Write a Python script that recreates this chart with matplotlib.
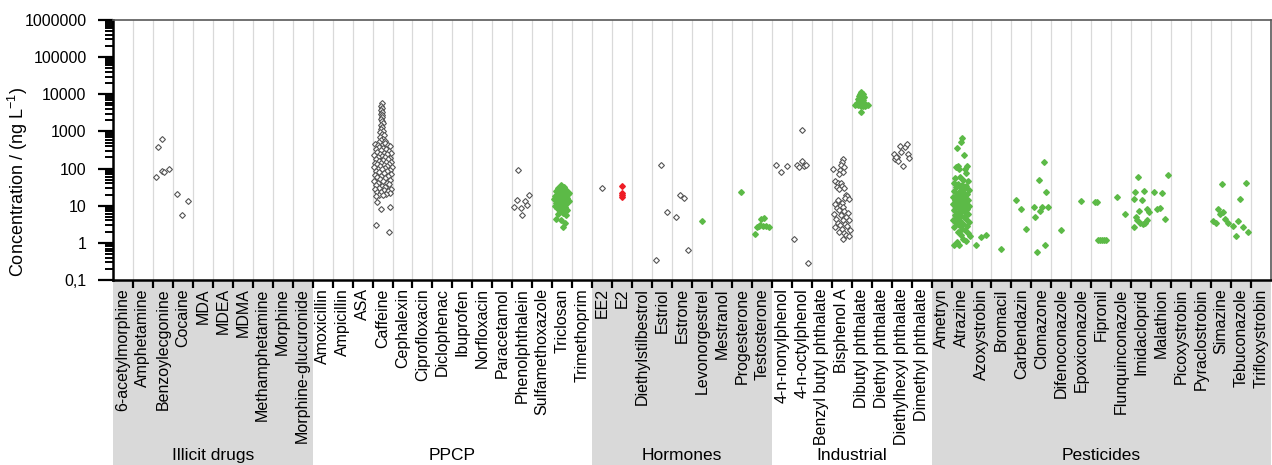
import matplotlib
matplotlib.use("Agg")
import matplotlib.pyplot as plt
from matplotlib.patches import Rectangle
from matplotlib.ticker import FixedLocator, LogLocator, NullFormatter, FuncFormatter

plt.rcParams["font.family"] = ["Liberation Sans", "DejaVu Sans"]
plt.rcParams["mathtext.default"] = "regular"

# compound groups
illicit = ["6-acetylmorphine", "Amphetamine", "Benzoylecgonine", "Cocaine", "MDA", "MDEA",
           "MDMA", "Methamphetamine", "Morphine", "Morphine-glucuronide"]
ppcp = ["Amoxicillin", "Ampicillin", "ASA", "Caffeine", "Cephalexin", "Ciprofloxacin",
        "Diclophenac", "Ibuprofen", "Norfloxacin", "Paracetamol", "Phenolphthalein",
        "Sulfamethoxazole", "Triclosan", "Trimethoprim"]
hormones = ["EE2", "E2", "Diethylstilbestrol", "Estriol", "Estrone", "Levonorgestrel",
            "Mestranol", "Progesterone", "Testosterone"]
industrial = ["4-n-nonylphenol", "4-n-octylphenol", "Benzyl butyl phthalate", "Bisphenol A",
              "Dibutyl phthalate", "Diethyl phthalate", "Diethylhexyl phthalate", "Dimethyl phthalate"]
pesticides = ["Ametryn", "Atrazine", "Azoxystrobin", "Bromacil", "Carbendazin", "Clomazone",
              "Difenoconazole", "Epoxiconazole", "Fipronil", "Flunquinconazole", "Imidacloprid",
              "Malathion", "Picoxystrobin", "Pyraclostrobin", "Simazine", "Tebuconazole",
              "Trifloxystrobin"]
groups = [("Illicit drugs", illicit, True), ("PPCP", ppcp, False), ("Hormones", hormones, True),
          ("Industrial", industrial, False), ("Pesticides", pesticides, True)]

# (jitter within category, concentration ng/L)
open_pts = {
    "Benzoylecgonine": [(0.13, 60), (0.27, 380), (0.47, 640), (0.43, 88), (0.57, 83), (0.8, 98)],
    "Cocaine": [(0.2, 21), (0.47, 5.7), (0.77, 13.4)],
    "Caffeine": [
        (0.45, 5700), (0.42, 4900), (0.48, 4300), (0.44, 3800), (0.47, 3400), (0.43, 3000),
        (0.46, 2700), (0.49, 2400), (0.41, 2100), (0.45, 1900), (0.5, 1700), (0.4, 1500),
        (0.47, 1300), (0.43, 1150), (0.52, 1050), (0.38, 950), (0.46, 850), (0.55, 780),
        (0.35, 700), (0.5, 640), (0.42, 600), (0.6, 560), (0.3, 520),
        (0.1, 450), (0.25, 430), (0.6, 480), (0.75, 420), (0.85, 400), (0.3, 380), (0.5, 360),
        (0.15, 340), (0.65, 330), (0.4, 310), (0.8, 300), (0.2, 280), (0.55, 270), (0.9, 260),
        (0.35, 250), (0.7, 240), (0.05, 230), (0.45, 220), (0.6, 210), (0.25, 200), (0.85, 195),
        (0.15, 185), (0.75, 180), (0.5, 170), (0.3, 160), (0.65, 155), (0.9, 150), (0.1, 145),
        (0.4, 140), (0.8, 135), (0.2, 130), (0.55, 125), (0.7, 120), (0.35, 115), (0.95, 112),
        (0.05, 108), (0.6, 104), (0.25, 100),
        (0.45, 96), (0.85, 92), (0.15, 88), (0.7, 85), (0.3, 80), (0.55, 76), (0.9, 72),
        (0.1, 68), (0.4, 65), (0.75, 62), (0.2, 58), (0.6, 55), (0.35, 52), (0.85, 50),
        (0.05, 47), (0.5, 45), (0.7, 42), (0.25, 40), (0.8, 38), (0.15, 36), (0.45, 34),
        (0.6, 32), (0.3, 30), (0.9, 29), (0.1, 28), (0.55, 26), (0.75, 25), (0.2, 24),
        (0.4, 23), (0.85, 22), (0.65, 21), (0.3, 20), (0.5, 19.5), (0.15, 18),
        (0.23, 12.6), (0.42, 8), (0.85, 9.5), (0.17, 3), (0.8, 2)],
    "Phenolphthalein": [(0.3, 90), (0.22, 14), (0.1, 9.4), (0.43, 8.5), (0.65, 13.5),
                        (0.83, 20), (0.73, 10.2), (0.5, 5.6)],
    "EE2": [(0.47, 30.5)],
    "Estriol": [(0.47, 122), (0.2, 0.35), (0.77, 6.8)],
    "Estrone": [(0.2, 4.9), (0.38, 20), (0.58, 16.5), (0.8, 0.63)],
    "4-n-nonylphenol": [(0.22, 125), (0.48, 83), (0.77, 117)],
    "4-n-octylphenol": [(0.13, 1.3), (0.5, 1100), (0.25, 121), (0.37, 112), (0.53, 162),
                        (0.63, 117), (0.73, 125), (0.82, 0.29)],
    "Bisphenol A": [
        (0.55, 180), (0.5, 150), (0.45, 125), (0.6, 110), (0.05, 95), (0.4, 90), (0.55, 80),
        (0.35, 70), (0.15, 45), (0.3, 42), (0.45, 40), (0.5, 35), (0.25, 32), (0.6, 30),
        (0.35, 28), (0.7, 20), (0.75, 18), (0.65, 16), (0.85, 15), (0.3, 14), (0.5, 12),
        (0.15, 11), (0.4, 10), (0.55, 9), (0.25, 8.5), (0.35, 7.5), (0.6, 7), (0.8, 6.5),
        (0.1, 6), (0.45, 5.5), (0.7, 5), (0.2, 4.5), (0.55, 4.2), (0.85, 4), (0.3, 3.5),
        (0.65, 3.2), (0.4, 3), (0.75, 2.8), (0.15, 2.6), (0.5, 2.4), (0.9, 2.2), (0.35, 2),
        (0.6, 1.9), (0.7, 1.6), (0.85, 1.5), (0.55, 1.3)],
    "Diethylhexyl phthalate": [(0.12, 245), (0.17, 178), (0.28, 209), (0.4, 415), (0.47, 280),
                               (0.58, 117), (0.65, 390), (0.75, 460), (0.8, 250), (0.87, 190),
                               (0.32, 160), (0.2, 200)],
}

green_pts = {
    "Triclosan": [
        (0.45, 37), (0.6, 32), (0.3, 30), (0.5, 28), (0.7, 26), (0.2, 25), (0.4, 24),
        (0.55, 22), (0.8, 21), (0.35, 20), (0.65, 19), (0.15, 18), (0.5, 17), (0.25, 16),
        (0.75, 16), (0.45, 15), (0.6, 14), (0.3, 14), (0.85, 13), (0.4, 13), (0.55, 12),
        (0.2, 12), (0.7, 11), (0.35, 11), (0.5, 10), (0.15, 10), (0.65, 9.5), (0.45, 9),
        (0.25, 8.5), (0.6, 8), (0.75, 7.5), (0.4, 7), (0.55, 6.5), (0.3, 6), (0.7, 5.5),
        (0.2, 4.5), (0.45, 4), (0.65, 3.5), (0.55, 2.6), (0.85, 22), (0.1, 15)],
    "Levonorgestrel": [(0.48, 3.9)],
    "Progesterone": [(0.47, 23.5)],
    "Testosterone": [(0.15, 1.75), (0.25, 2.6), (0.35, 2.9), (0.45, 4.4), (0.6, 4.7),
                     (0.55, 2.9), (0.7, 2.8), (0.85, 2.7), (0.4, 3.0)],
    "Dibutyl phthalate": [
        (0.45, 11500), (0.4, 10000), (0.55, 10000), (0.35, 9000), (0.5, 8800), (0.6, 8500),
        (0.4, 8000), (0.3, 7500), (0.5, 7200), (0.55, 7000), (0.45, 6500), (0.35, 6200),
        (0.6, 6000), (0.25, 5800), (0.5, 5500), (0.4, 5300), (0.7, 5200), (0.15, 5000),
        (0.3, 5000), (0.55, 4900), (0.8, 5000), (0.45, 4800), (0.65, 4800), (0.45, 3300)],
    "Atrazine": [
        (0.5, 680), (0.48, 510), (0.25, 350), (0.6, 230), (0.3, 120), (0.75, 115), (0.2, 110),
        (0.35, 95), (0.65, 95), (0.7, 75), (0.4, 60), (0.15, 55), (0.55, 50), (0.8, 45),
        (0.1, 40), (0.3, 38), (0.5, 36), (0.7, 34), (0.2, 32), (0.45, 30), (0.6, 28),
        (0.85, 27), (0.1, 25), (0.35, 24), (0.55, 22), (0.75, 21), (0.25, 20), (0.45, 19),
        (0.65, 18), (0.05, 17), (0.3, 16), (0.5, 15), (0.8, 14.5), (0.15, 14), (0.4, 13),
        (0.6, 12.5), (0.25, 12), (0.7, 11.5), (0.05, 11), (0.45, 10.5), (0.85, 10),
        (0.2, 9.5), (0.55, 9), (0.35, 8.5), (0.75, 8), (0.1, 7.5), (0.5, 7), (0.65, 6.8),
        (0.3, 6.5), (0.8, 6), (0.15, 5.7), (0.45, 5.4), (0.6, 5), (0.25, 4.7), (0.7, 4.4),
        (0.05, 4.1), (0.4, 3.9), (0.85, 3.7), (0.2, 3.4), (0.55, 3.2), (0.35, 3),
        (0.75, 2.8), (0.1, 2.6), (0.5, 2.4), (0.65, 2.2), (0.3, 2), (0.8, 1.8), (0.45, 1.6),
        (0.1, 0.9), (0.35, 0.9), (0.9, 1.55), (0.55, 1.25), (0.25, 1.05), (0.7, 1.15)],
    "Azoxystrobin": [(0.22, 0.87), (0.48, 1.45), (0.75, 1.65)],
    "Bromacil": [(0.5, 0.68)],
    "Carbendazin": [(0.22, 14.5), (0.48, 8.3), (0.73, 2.3)],
    "Clomazone": [(0.62, 150), (0.37, 50), (0.75, 24), (0.12, 9.5), (0.53, 9.1), (0.83, 9.1),
                  (0.45, 7.1), (0.2, 5.0), (0.67, 0.87), (0.28, 0.58)],
    "Difenoconazole": [(0.48, 2.2)],
    "Epoxiconazole": [(0.5, 13.5)],
    "Fipronil": [(0.2, 12.7), (0.28, 12.7), (0.35, 1.2), (0.45, 1.2), (0.55, 1.2),
                 (0.65, 1.2), (0.75, 1.2)],
    "Flunquinconazole": [(0.3, 17.5), (0.67, 6.0)],
    "Imidacloprid": [(0.35, 59), (0.2, 23.5), (0.62, 25), (0.12, 15.5), (0.53, 14),
                     (0.37, 7.3), (0.78, 8), (0.87, 6.7), (0.23, 5), (0.45, 3.5), (0.7, 3.5),
                     (0.6, 3.3), (0.15, 2.7), (0.28, 4.1), (0.78, 4.1)],
    "Malathion": [(0.15, 23), (0.55, 22.5), (0.83, 68), (0.28, 8.3), (0.42, 8.7), (0.7, 4.4)],
    "Simazine": [(0.12, 3.9), (0.23, 3.5), (0.33, 8.3), (0.53, 38), (0.45, 6), (0.62, 6.9),
                 (0.7, 4.5), (0.83, 3.5)],
    "Tebuconazole": [(0.12, 2.8), (0.25, 1.5), (0.37, 3.9), (0.47, 15.5), (0.58, 2.7),
                     (0.73, 41), (0.83, 2.0)],
}

red_pts = {
    "E2": [(0.47, 35), (0.47, 22), (0.47, 19), (0.47, 17)],
}

categories = [c for _, members, _ in groups for c in members]
n = len(categories)

fig = plt.figure(figsize=(12.72, 4.65), dpi=100)
ax = fig.add_axes([113 / 1272, 1 - 280 / 465, 1158 / 1272, 260 / 465])

def draw(pts, **kw):
    for name, vals in pts.items():
        i = categories.index(name)
        ax.plot([i + f for f, v in vals], [v for f, v in vals], "D", linestyle="none", **kw)

draw(open_pts, ms=3.0, mfc="white", mec="#555555", mew=0.8, zorder=3)
draw(green_pts, ms=2.9, mfc="#5cba47", mec="#5cba47", mew=1.0, zorder=3)
draw(red_pts, ms=2.9, mfc="#ee1c25", mec="#ee1c25", mew=1.0, zorder=3)

ax.set_yscale("log")
ax.set_ylim(0.1, 1e6)
ax.set_xlim(0, n)
ax.yaxis.set_major_locator(FixedLocator([10.0 ** k for k in range(-1, 7)]))
ax.yaxis.set_major_formatter(FuncFormatter(lambda v, p: "0,1" if v < 1 else f"{int(round(v))}"))
ax.yaxis.set_minor_locator(LogLocator(base=10, subs=range(2, 10), numticks=20))
ax.yaxis.set_minor_formatter(NullFormatter())
ax.tick_params(axis="y", which="major", direction="out", length=11, width=1.6,
               labelsize=11.5, pad=8)
ax.tick_params(axis="y", which="minor", direction="out", length=6, width=1.4)

# x: ticks at category boundaries, labels at centers
ax.set_xticks(range(1, n))
ax.set_xticklabels([])
ax.set_xticks([i + 0.5 for i in range(n)], minor=True)
ax.set_xticklabels(categories, minor=True, rotation=90, fontsize=11.5)
ax.tick_params(axis="x", which="major", direction="out", length=6, width=1.6)
ax.tick_params(axis="x", which="minor", length=0, pad=6)
ax.grid(axis="x", which="major", color="#d9d9d9", lw=0.9, zorder=0)

for s in ["left", "bottom"]:
    ax.spines[s].set_linewidth(1.8)
    ax.spines[s].set_color("black")
for s in ["top", "right"]:
    ax.spines[s].set_linewidth(1.2)
    ax.spines[s].set_color("#595959")

ax.set_ylabel("Concentration / (ng L$^{-1}$)", fontsize=13)
ax.yaxis.set_label_coords(-0.0715, 0.377)

# group bands below the axis
trans = ax.get_xaxis_transform()
start = 0
for gname, members, grey in groups:
    end = start + len(members)
    if grey:
        ax.add_patch(Rectangle((start, -0.72), end - start, 0.72, transform=trans,
                               facecolor="#d9d9d9", edgecolor="none", clip_on=False, zorder=0))
    ax.text((start + end) / 2, -0.675, gname, transform=trans, ha="center", va="center",
            fontsize=12.5)
    start = end

fig.savefig("out.png", dpi=100)
